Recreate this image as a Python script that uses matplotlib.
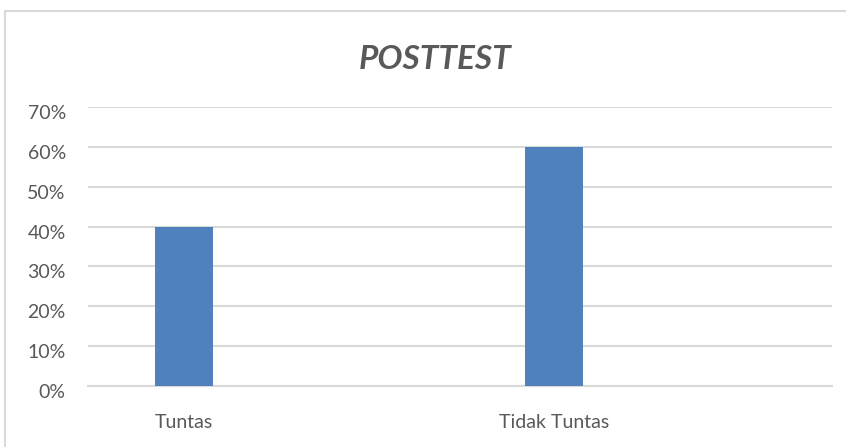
import matplotlib.pyplot as plt
from matplotlib.patches import Rectangle
from matplotlib.ticker import PercentFormatter
from matplotlib.transforms import ScaledTranslation

categories = ['Tuntas', 'Tidak Tuntas']
values = [40, 60]
y_ticks = [0, 10, 20, 30, 40, 50, 60, 70]

plt.rcParams['font.family'] = ['Lato', 'DejaVu Sans']

fig = plt.figure(figsize=(8.46, 4.47), dpi=100)
ax = fig.add_axes([0.104, 0.1365, 0.879, 0.624])

# chart border (cut off at the right and bottom like the screenshot)
fig.patches.append(Rectangle((5 / 846, -0.05), 1.2, (447 - 11) / 447 + 0.05,
                             transform=fig.transFigure, fill=False,
                             edgecolor='#d9d9d9', linewidth=1.5))

x = range(len(categories))
ax.bar(x, values, width=0.157, color='#4f81bd', zorder=3)

ax.set_ylim(0, 70)
ax.set_xlim(-0.259, 1.751)
ax.set_yticks(y_ticks)
ax.yaxis.set_major_formatter(PercentFormatter(decimals=0))
ax.set_xticks(list(x))
ax.set_xticklabels(categories)
ax.grid(axis='y', color='#d9d9d9', linewidth=1.5, zorder=0)
for side in ['top', 'right', 'left']:
    ax.spines[side].set_visible(False)
ax.spines['bottom'].set_color('#d9d9d9')
ax.spines['bottom'].set_linewidth(1.5)
ax.tick_params(axis='both', length=0, colors='#595959', labelsize=14)
ax.tick_params(axis='y', pad=16)
ax.tick_params(axis='x', pad=20)

# Excel puts the value labels a little below their gridlines
shift = ScaledTranslation(0, -5 / 100, fig.dpi_scale_trans)
for lab in ax.get_yticklabels():
    lab.set_transform(lab.get_transform() + shift)

fig.text(0.514, 0.866, 'POSTTEST', ha='center', va='center', fontsize=24,
         fontweight='bold', fontstyle='italic', color='#595959')

fig.savefig('out.png', dpi=100)
